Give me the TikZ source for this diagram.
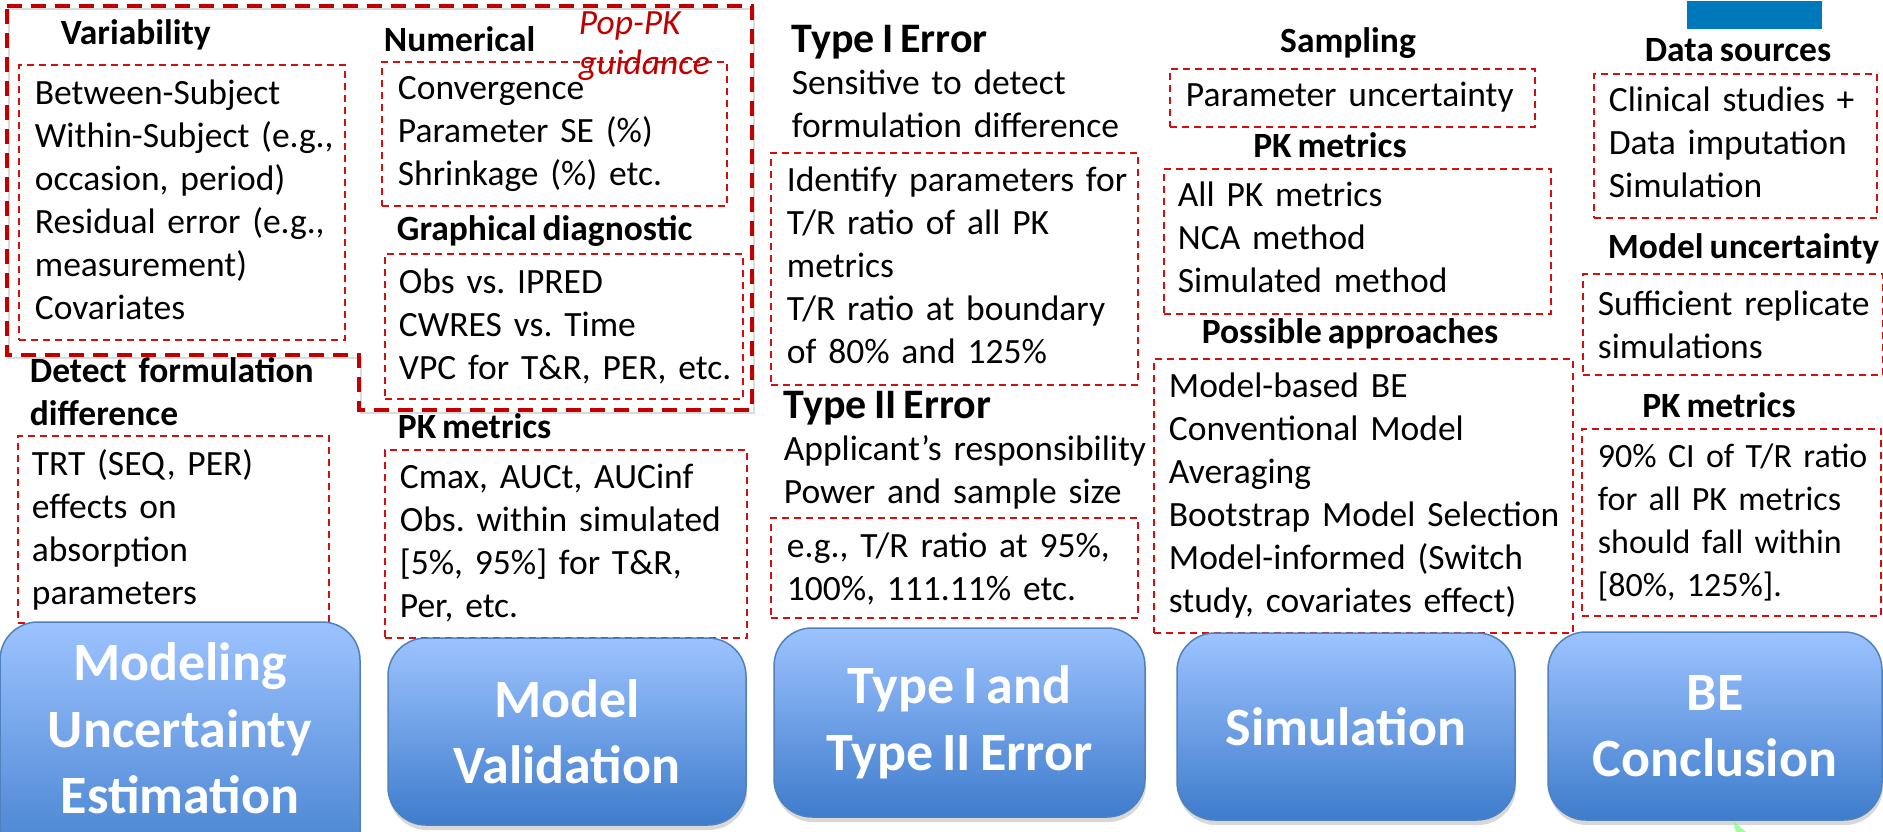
\documentclass[tikz,border=0pt]{standalone}
\usepackage{fontspec}
\setmainfont{Carlito}[WordSpace=0.75]
\usetikzlibrary{shadows}
\definecolor{cred}{RGB}{208,16,16}
\definecolor{cdred}{RGB}{192,0,0}
\definecolor{ctop}{RGB}{157,195,255}
\definecolor{cbot}{RGB}{62,124,204}
\definecolor{cedge}{RGB}{79,129,189}
\definecolor{clogo}{RGB}{0,121,188}
\frenchspacing
\tikzset{
  every picture/.style={line width=1.8pt},
  body/.style={font=\fontsize{35.5}{43}\selectfont, anchor=base west, align=left, text width=430pt, inner sep=0pt},
  head/.style={font=\fontsize{35.5}{43}\selectfont\bfseries, anchor=base west, inner sep=0pt},
  bighead/.style={font=\fontsize{42}{50}\selectfont\bfseries, anchor=base west, inner sep=0pt},
  redbox/.style={draw=cred, dash pattern=on 7pt off 5pt, anchor=north west, inner sep=0pt},
  stage/.style={draw=cedge, line width=1.5pt, top color=ctop, bottom color=cbot, rounded corners=38pt,
    text=white, align=center, font=\fontsize{54}{66.5}\selectfont\bfseries,
    drop shadow={shadow xshift=1pt, shadow yshift=-5pt, opacity=.3}},
  stagetext/.style={text=white, align=center, font=\fontsize{54}{66.5}\selectfont\bfseries},
  popline/.style={draw=cdred, line width=4.5pt, dash pattern=on 15pt off 9pt,
    preaction={draw=black!40, opacity=.35, transform canvas={xshift=2pt, yshift=-3pt}}},
}
\begin{document}
\begin{tikzpicture}[x=1pt, y=-1pt]
  \clip (0,0) rectangle (1883,832);
  \fill[white] (0,0) rectangle (1883,832);
  \node[fill=clogo, minimum width=135, minimum height=28, anchor=north west, inner sep=0pt] (logo) at (1686,0) {};

  % pop-PK guidance outline
  \draw[popline] (7,6) -- (752,6) -- (752,410) -- (359,410) -- (359,355) -- (7,355) -- cycle;

  % modeling uncertainty estimation
  \node[head] (varh) at (60,45) {Variability};
  \node[redbox, minimum width=326, minimum height=275] (varbox) at (18,64) {};
  \node[body] (vart) at (34,105) {Between-Subject\\Within-Subject (e.g.,\\occasion, period)\\Residual error (e.g.,\\measurement)\\Covariates};
  \node[body, font=\fontsize{35.5}{43}\selectfont\bfseries] (deth) at (29,382) {Detect formulation\\difference};
  \node[redbox, minimum width=311, minimum height=187] (detbox) at (17,435) {};
  \node[body] (dett) at (31,475) {TRT (SEQ, PER)\\effects on\\absorption\\parameters};

  % model validation
  \node[head] (numh) at (383,52) {Numerical};
  \node[redbox, minimum width=345, minimum height=144] (numbox) at (381,61) {};
  \node[body] (numt) at (397,100) {Convergence\\Parameter SE (\%)\\Shrinkage (\%) etc.};
  \node[body, font=\fontsize{35.5}{40}\selectfont\itshape, text=cdred] (popk) at (578,35) {Pop-PK\\guidance};
  \node[head] (grah) at (396,240) {Graphical diagnostic};
  \node[redbox, minimum width=358, minimum height=145] (grabox) at (384,253) {};
  \node[body] (grat) at (398,293) {Obs vs. IPRED\\CWRES vs. Time\\VPC for T\&R, PER, etc.};
  \node[head] (pkah) at (397,438) {PK metrics};
  \node[redbox, minimum width=362, minimum height=188] (pkabox) at (384,449) {};
  \node[body] (pkat) at (399,488) {Cmax, AUCt, AUCinf\\Obs. within simulated\\{[5\%, 95\%]} for T\&R,\\Per, etc.};

  % type I and type II error
  \node[bighead] (t1h) at (791,53) {Type I Error};
  \node[body] (t1s) at (791,95) {Sensitive to detect\\formulation difference};
  \node[redbox, minimum width=367, minimum height=232] (t1box) at (770,152) {};
  \node[body] (t1t) at (786,192) {Identify parameters for\\T/R ratio of all PK\\metrics\\T/R ratio at boundary\\of 80\% and 125\%};
  \node[bighead] (t2h) at (783,418) {Type II Error};
  \node[body] (t2s) at (783,460) {Applicant’s responsibility\\Power and sample size};
  \node[redbox, minimum width=367, minimum height=100] (t2box) at (770,517) {};
  \node[body] (t2t) at (786,557) {e.g., T/R ratio at 95\%,\\100\%, 111.11\% etc.};

  % simulation
  \node[head, anchor=base] (samh) at (1348,53) {Sampling};
  \node[redbox, minimum width=365, minimum height=58] (sambox) at (1169,68) {};
  \node[body] (samt) at (1185,107) {Parameter uncertainty};
  \node[head, anchor=base] (pkbh) at (1330,158) {PK metrics};
  \node[redbox, minimum width=387, minimum height=145] (pkbbox) at (1163,168) {};
  \node[body] (pkbt) at (1177,207) {All PK metrics\\NCA method\\Simulated method};
  \node[head, anchor=base] (apph) at (1350,343) {Possible approaches};
  \node[redbox, minimum width=419, minimum height=274] (appbox) at (1153,358) {};
  \node[body] (appt) at (1168,397) {Model-based BE\\Conventional Model\\Averaging\\Bootstrap Model Selection\\Model-informed (Switch\\study, covariates effect)};

  % BE conclusion
  \node[head, anchor=base] (dath) at (1738,62) {Data sources};
  \node[redbox, minimum width=283, minimum height=144] (datbox) at (1593,73) {};
  \node[body] (datt) at (1608,112) {Clinical studies +\\Data imputation\\Simulation};
  \node[head] (modh) at (1607,258) {Model uncertainty};
  \node[redbox, minimum width=300, minimum height=101] (modbox) at (1582,273) {};
  \node[body] (modt) at (1597,315) {Sufficient replicate\\simulations};
  \node[head, anchor=base] (pkch) at (1719,417) {PK metrics};
  \node[redbox, minimum width=299, minimum height=187] (pkcbox) at (1581,428) {};
  \node[body, font=\fontsize{34}{43}\selectfont] (pkct) at (1597,467) {90\% CI of T/R ratio\\for all PK metrics\\should fall within\\{[80\%, 125\%].}};

  % stages
  \node[stage, minimum width=360, minimum height=260] (mue) at (180,752) {};
  \node[stagetext] (muet) at (180,728.5) {Modeling\\Uncertainty\\Estimation};
  \node[stage, minimum width=358, minimum height=187] (mval) at (567,731.5) {Model\\Validation};
  \node[stage, minimum width=371, minimum height=189] (err) at (959.5,722.5) {Type I and\\Type II Error};
  \node[stage, minimum width=338, minimum height=187] (sim) at (1346,726.5) {Simulation};
  \node[stage, minimum width=334, minimum height=188] (bec) at (1715,726) {BE\\Conclusion};

  \fill[green!55!white, opacity=.7] (1733,821) -- (1746,832) -- (1736,832) -- cycle;
\end{tikzpicture}
\end{document}
